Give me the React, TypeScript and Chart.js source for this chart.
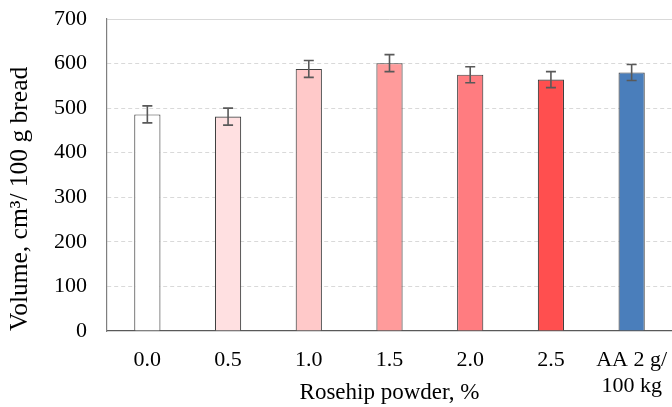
import React, { useEffect, useRef } from "react";
import { Chart, registerables } from "chart.js";

Chart.register(...registerables);

const categories: (string | string[])[] = ["0.0", "0.5", "1.0", "1.5", "2.0", "2.5", ["AA 2 g/", "100 kg"]];
const volumes = [486, 481, 588, 601, 575, 564, 580];
const errors = [19, 19, 19, 19, 18, 18, 18];
const barColors = ["#FFFFFF", "#FFE0E1", "#FFC9C9", "#FF9B9B", "#FF7C80", "#FF4F4F", "#4A7EBB"];
const yTicks = [0, 100, 200, 300, 400, 500, 600, 700];

const FONT = "'Times New Roman', 'Liberation Serif', serif";

const errorBarPlugin = {
  id: "errorBars",
  afterDatasetsDraw(chart: any) {
    const meta = chart.getDatasetMeta(0);
    const yScale = chart.scales.y;
    const ctx = chart.ctx;
    ctx.save();
    ctx.strokeStyle = "#595959";
    ctx.lineWidth = 1.6;
    meta.data.forEach((bar: any, i: number) => {
      const v = volumes[i];
      const e = errors[i];
      const yTop = yScale.getPixelForValue(v + e);
      const yBot = yScale.getPixelForValue(v - e);
      const x = bar.x;
      const cap = 5;
      ctx.beginPath();
      ctx.moveTo(x, yTop);
      ctx.lineTo(x, yBot);
      ctx.moveTo(x - cap, yTop);
      ctx.lineTo(x + cap, yTop);
      ctx.moveTo(x - cap, yBot);
      ctx.lineTo(x + cap, yBot);
      ctx.stroke();
    });
    ctx.restore();
  },
};

const zeroPad = (scale: any) => {
  scale.paddingTop = 0;
  scale.paddingBottom = 0;
  scale.paddingLeft = 0;
  scale.paddingRight = 0;
};

export default function App() {
  const ref = useRef<HTMLCanvasElement>(null);
  useEffect(() => {
    document.body.style.margin = "0";
    const chart = new Chart(ref.current!, {
      type: "bar",
      data: {
        labels: categories,
        datasets: [
          {
            data: volumes,
            backgroundColor: barColors,
            borderColor: "#404040",
            borderWidth: 1.1,
            barPercentage: 0.325,
            categoryPercentage: 1,
          },
        ],
      },
      options: {
        animation: false,
        responsive: false,
        maintainAspectRatio: false,
        layout: { padding: { top: 19, right: 0, left: 0, bottom: 0 } },
        plugins: { legend: { display: false }, tooltip: { enabled: false } },
        scales: {
          x: {
            grid: { display: false, drawTicks: false },
            border: { display: true, color: "#595959", width: 1.2 },
            ticks: {
              color: "#000",
              font: { family: FONT, size: 22, lineHeight: 1.2 },
              padding: 16,
              maxRotation: 0,
              autoSkip: false,
            },
            title: {
              display: true,
              text: "Rosehip powder, %",
              color: "#000",
              font: { family: FONT, size: 23 },
              padding: { top: 0, bottom: 0 },
            },
            afterFit: (scale: any) => {
              scale.height = 76;
              zeroPad(scale);
            },
          },
          y: {
            min: 0,
            max: 700,
            afterBuildTicks: (scale: any) => {
              scale.ticks = yTicks.map((v) => ({ value: v }));
            },
            grid: {
              color: (c: any) => (c.tick && c.tick.value === 0 ? "rgba(0,0,0,0)" : "#D9D9D9"),
              lineWidth: 1,
              drawTicks: false,
            },
            border: {
              display: true,
              color: "#7F7F7F",
              width: 1.2,
              dash: (c: any) => (c.tick && c.tick.value === 700 ? [] : [4, 3]),
            },
            ticks: {
              color: "#000",
              font: { family: FONT, size: 22 },
              padding: 20,
            },
            title: {
              display: true,
              text: "Volume, cm³/ 100 g bread",
              color: "#000",
              align: "start",
              font: { family: FONT, size: 25.5 },
              padding: { top: 5, bottom: 0 },
            },
            afterFit: (scale: any) => {
              scale.width = 107;
              zeroPad(scale);
            },
          },
        },
      },
      plugins: [errorBarPlugin],
    });
    return () => chart.destroy();
  }, []);
  return (
    <div style={{ position: "fixed", left: 0, top: 0, width: 672, height: 407 }}>
      <canvas ref={ref} width={672} height={407} style={{ width: 672, height: 407 }} />
    </div>
  );
}
